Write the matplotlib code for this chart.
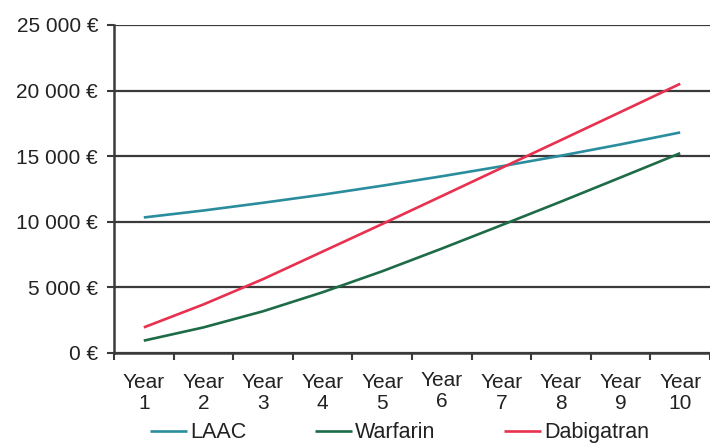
import numpy as np
import matplotlib
matplotlib.use('Agg')
import matplotlib.pyplot as plt
from matplotlib.ticker import FuncFormatter

plt.rcParams['font.family'] = ['Liberation Sans', 'DejaVu Sans']

# Data (cumulative cost, EUR)
years = [1, 2, 3, 4, 5, 6, 7, 8, 9, 10]
year_labels = ['Year\n%d' % y for y in years]
laac = [10330, 10860, 11450, 12070, 12750, 13470, 14230, 15040, 15900, 16810]
warfarin = [940, 1950, 3180, 4630, 6230, 7960, 9740, 11540, 13380, 15230]
dabigatran = [1950, 3700, 5630, 7730, 9830, 11960, 14100, 16230, 18370, 20520]
y_ticks = [0, 5000, 10000, 15000, 20000, 25000]

fig = plt.figure(figsize=(7.1, 4.45), dpi=100)
ax = fig.add_axes([114 / 710, 1 - 353 / 445, 596 / 710, 328 / 445])

ax.set_xlim(0.5, 10.5)
ax.set_ylim(0, 25000)

# Gridlines
ax.set_yticks(y_ticks)
ax.yaxis.grid(True, color='#3a3a3a', lw=1.6)
ax.set_axisbelow(True)

ax.plot(years, laac, color='#2a8d9d', lw=1.9, label='LAAC', solid_capstyle='butt')
ax.plot(years, warfarin, color='#1d6b47', lw=1.9, label='Warfarin', solid_capstyle='butt')
ax.plot(years, dabigatran, color='#e8304f', lw=1.9, label='Dabigatran', solid_capstyle='butt')

for s in ['top', 'right']:
    ax.spines[s].set_visible(False)
for s in ['left', 'bottom']:
    ax.spines[s].set_color('#3a3a3a')
    ax.spines[s].set_linewidth(1.8)

def euro(v, pos):
    return '{:,.0f} €'.format(v).replace(',', ' ')

ax.yaxis.set_major_formatter(FuncFormatter(euro))
ax.tick_params(axis='y', which='major', length=5, width=1.5, color='#3a3a3a',
               pad=6.5, labelsize=15, labelcolor='#222222')

# Category boundaries as major ticks, labels on minor ticks at centers
ax.set_xticks(np.arange(0.5, 11, 1))
ax.set_xticklabels([])
ax.set_xticks(years, minor=True)
ax.set_xticklabels(year_labels, minor=True, fontsize=15, color='#222222',
                   linespacing=1.15)
ax.tick_params(axis='x', which='major', length=5, width=1.5, color='#3a3a3a')
ax.tick_params(axis='x', which='minor', length=0, pad=14.5)
ax.xaxis.get_minor_ticks()[5].set_pad(13)

fig.legend(loc='center', bbox_to_anchor=(0.563, 0.027), ncol=3, frameon=False,
           fontsize=15.5, handlelength=1.7, handletextpad=0.15, columnspacing=3.2,
           borderaxespad=0, borderpad=0, labelcolor='#222222')

fig.savefig('out.png', dpi=100)
